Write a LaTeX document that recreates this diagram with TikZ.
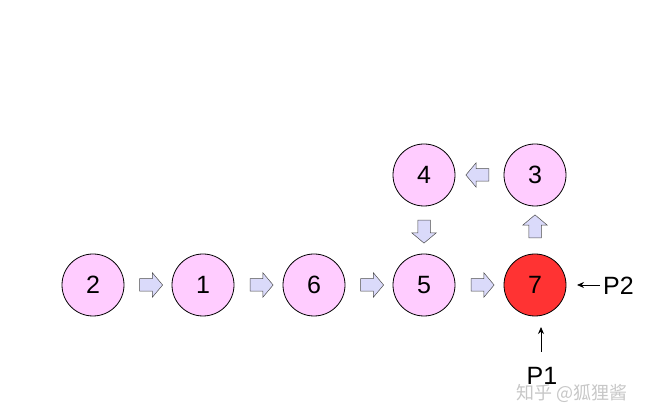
\documentclass[tikz,border=0pt]{standalone}
\usepackage{fontspec}
\setmainfont{Liberation Sans}
\newfontfamily\cjk{Noto Sans CJK SC}
\usetikzlibrary{shapes.arrows,arrows.meta}
\definecolor{nodepink}{RGB}{255,204,255}
\definecolor{nodered}{RGB}{255,51,51}
\definecolor{arrowfill}{RGB}{218,218,250}
\begin{document}
\begin{tikzpicture}[x=1pt,y=-1pt,
  circ/.style={circle,draw=black,line width=0.8pt,fill=nodepink,minimum size=62pt,inner sep=0pt,font=\fontsize{25}{28}\selectfont},
  hot/.style={circ,fill=nodered},
  blockarrow/.style={single arrow,draw=black!70,line width=0.5pt,fill=arrowfill,inner xsep=0pt,inner ysep=6pt,
     single arrow head extend=6pt,minimum height=23pt,single arrow tip angle=100},
  label/.style={font=\fontsize{25}{28}\selectfont,inner sep=0pt},
  pointer/.style={-{Stealth[length=7pt,width=6pt]},line width=0.8pt}]
\useasboundingbox (0,0) rectangle (651,419);
\node[circ] (n2) at (93,285) {2};
\node[circ] (n1) at (203,285) {1};
\node[circ] (n6) at (314,285) {6};
\node[circ] (n5) at (424,285) {5};
\node[hot]  (n7) at (535,285) {7};
\node[circ] (n4) at (424,175) {4};
\node[circ] (n3) at (535,175) {3};
\node[blockarrow] (a21) at (148.5,285) {};
\node[blockarrow] (a16) at (259,285) {};
\node[blockarrow] (a65) at (369.5,285) {};
\node[blockarrow] (a57) at (480,285) {};
\node[blockarrow,rotate=90] (a73) at (535,229) {};
\node[blockarrow,rotate=180] (a34) at (480,175) {};
\node[blockarrow,rotate=-90] (a45) at (424,229) {};
\node[label,anchor=west] (p2) at (603,286) {P2};
\coordinate (p2s) at (600,285);
\coordinate (p2e) at (577,285);
\draw[pointer] (p2s) -- (p2e);
\node[label] (p1) at (542,376) {P1};
\coordinate (p1s) at (541,352);
\coordinate (p1e) at (541,327);
\draw[pointer] (p1s) -- (p1e);
\node[font=\cjk\fontsize{18}{20}\selectfont,text=black!22] (wm) at (572,393) {知乎 @狐狸酱};
\end{tikzpicture}
\end{document}
